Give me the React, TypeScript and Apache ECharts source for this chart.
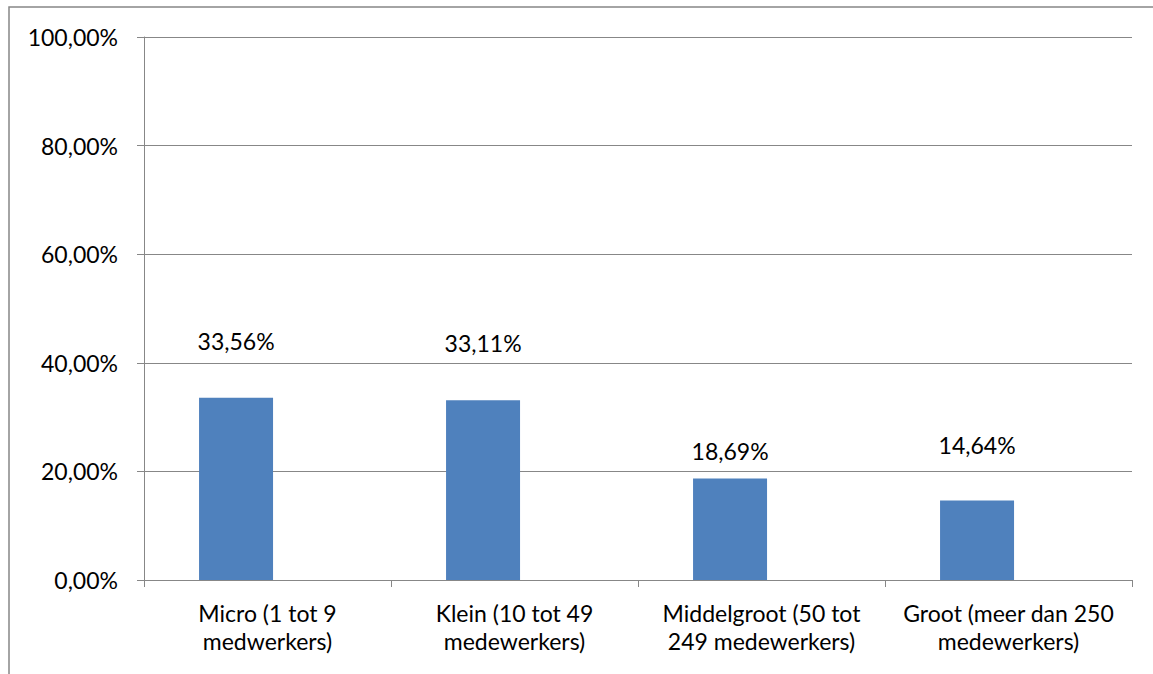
import React, { useEffect, useRef } from "react";
import * as echarts from "echarts";

const categories = [
  "Micro (1 tot 9\nmedwerkers)",
  "Klein (10 tot 49\nmedewerkers)",
  "Middelgroot (50 tot\n249 medewerkers)",
  "Groot (meer dan 250\nmedewerkers)",
];
const values = [33.56, 33.11, 18.69, 14.64];
const emptySeries: number[] = [];
const labelTexts = ["33,56%", "33,11%", "18,69%", "14,64%"];
const labelOffsets = [-40, -41, -11, -39];

const fmtPct = (v: number) => v.toFixed(2).replace(".", ",") + "%";

export default function App() {
  const ref = useRef<HTMLDivElement>(null);
  useEffect(() => {
    if (!ref.current) return;
    const chart = echarts.init(ref.current, null, { renderer: "svg" });
    const font = "Lato, 'Open Sans', sans-serif";
    chart.setOption({
      animation: false,
      backgroundColor: "#ffffff",
      textStyle: { fontFamily: font },
      grid: { left: 144, right: 21, top: 37, bottom: 94, containLabel: false },
      graphic: [
        {
          type: "rect",
          shape: { x: 9, y: 7, width: 1200, height: 720 },
          style: { fill: "none", stroke: "#878787", lineWidth: 1.5 },
          silent: true,
        },
      ],
      xAxis: {
        type: "category",
        data: categories,
        axisLine: { show: true, lineStyle: { color: "#878787", width: 1 } },
        axisTick: { show: true, length: 7, lineStyle: { color: "#878787" } },
        axisLabel: {
          color: "#000",
          fontSize: 23,
          fontFamily: font,
          margin: 19,
          lineHeight: 28,
          interval: 0,
        },
      },
      yAxis: {
        type: "value",
        min: 0,
        max: 100,
        interval: 20,
        axisLine: { show: true, lineStyle: { color: "#878787", width: 1 } },
        axisTick: { show: true, length: 7, lineStyle: { color: "#878787" } },
        splitLine: { show: true, lineStyle: { color: "#878787", width: 1 } },
        axisLabel: {
          color: "#000",
          fontSize: 23,
          fontFamily: font,
          margin: 26,
          formatter: (v: number) => fmtPct(v),
        },
      },
      series: [
        {
          type: "bar",
          barWidth: 74,
          barGap: "-15%",
          itemStyle: { color: "#4F81BD" },
          data: values.map((v, i) => ({
            value: v,
            label: {
              show: true,
              position: "top",
              distance: 5,
              offset: [0, labelOffsets[i]],
              formatter: labelTexts[i],
              color: "#000",
              fontSize: 23,
              fontFamily: font,
            },
          })),
        },
        {
          type: "bar",
          barWidth: 74,
          barGap: "-15%",
          itemStyle: { color: "#C0504D" },
          data: emptySeries,
        },
      ],
    });
    return () => chart.dispose();
  }, []);
  return (
    <div
      ref={ref}
      style={{ position: "fixed", left: 0, top: 0, width: 1153, height: 674 }}
    />
  );
}
